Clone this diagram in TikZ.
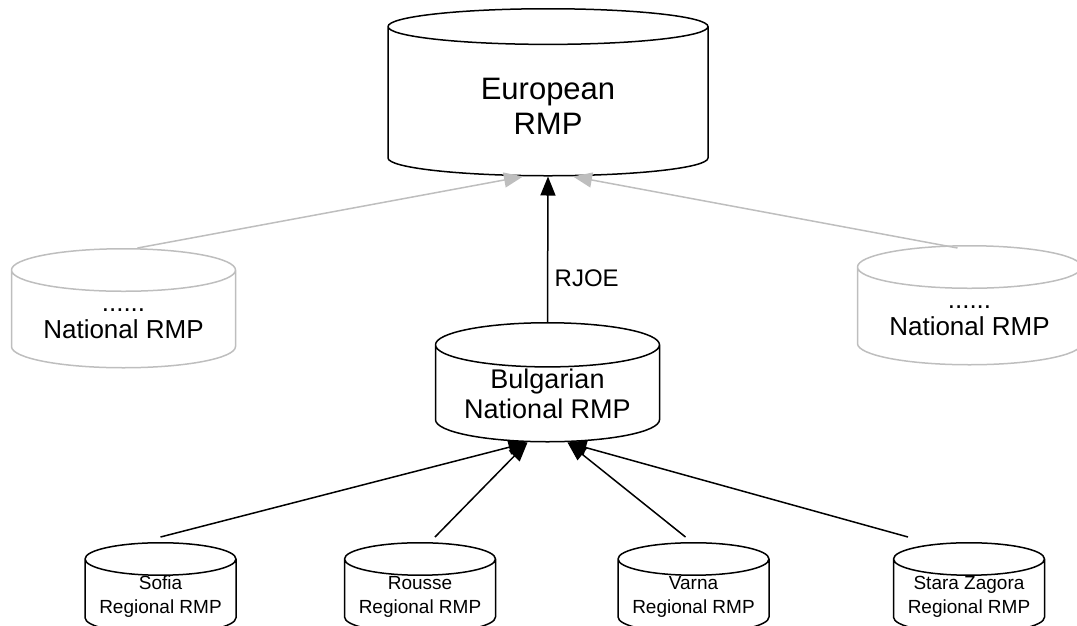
\documentclass[tikz,border=0pt]{standalone}
\usepackage{fontspec}
\setmainfont{Liberation Sans}
\usepackage{tikz}
\usetikzlibrary{shapes.geometric,arrows.meta,positioning}
\definecolor{lightgrey}{RGB}{190,190,190}

\begin{document}
\begin{tikzpicture}[x=1pt,y=-1pt,
  db/.style={cylinder, shape border rotate=90, aspect=0.265, draw,
    line width=1.5pt, align=center, inner sep=0pt, anchor=north},
  bigdb/.style={db, minimum width=320pt, minimum height=167pt,
    font=\fontsize{31}{35}\selectfont},
  natdb/.style={db, minimum width=224pt, minimum height=119pt,
    font=\fontsize{27}{30}\selectfont},
  otherdb/.style={natdb, draw=lightgrey, font=\fontsize{26}{27}\selectfont},
  regdb/.style={db, minimum width=151pt, minimum height=86pt,
    font=\fontsize{19}{24}\selectfont},
  link/.style={line width=1.5pt, -{Triangle[length=19pt,width=15pt]}},
  greylink/.style={link, draw=lightgrey}]

  \useasboundingbox (0,0) rectangle (1077,625);

  % Databases
  \node[bigdb] (eur) at (548,8) {\rule{0pt}{30pt}European\\RMP};
  \node[otherdb] (natl) at (123.5,248) {\rule{0pt}{12pt}......\\National RMP};
  \node[otherdb] (natr) at (969.5,245) {\rule{0pt}{12pt}......\\National RMP};
  \node[natdb] (bg) at (547.5,322) {Bulgarian\\National RMP};

  \node[regdb] (sofia) at (160.5,542) {Sofia\\Regional RMP};
  \node[regdb] (rousse) at (420,542) {Rousse\\Regional RMP};
  \node[regdb] (varna) at (693.5,542) {Varna\\Regional RMP};
  \node[regdb] (stara) at (969,542) {Stara Zagora\\Regional RMP};

  % Links to the European RMP
  \draw[greylink] ([xshift=14pt]natl.north) -- ([xshift=-25pt]eur.south);
  \draw[greylink] ([xshift=-12pt,yshift=-3pt]natr.north) -- ([xshift=25pt]eur.south);
  \draw[link] (bg.north) -- (eur.south)
    node[pos=0.3, right=3pt, font=\fontsize{24}{28}\selectfont] (rjoe) {RJOE};

  % Links to the Bulgarian RMP
  \draw[link] ([yshift=5pt]sofia.north) -- ([xshift=-20pt]bg.south);
  \draw[link] ([xshift=15pt,yshift=5pt]rousse.north) -- ([xshift=-20pt]bg.south);
  \draw[link] ([xshift=-8pt,yshift=5pt]varna.north) -- ([xshift=20pt]bg.south);
  \draw[link] ([xshift=-61pt,yshift=5pt]stara.north) -- ([xshift=20pt]bg.south);

\end{tikzpicture}
\end{document}
